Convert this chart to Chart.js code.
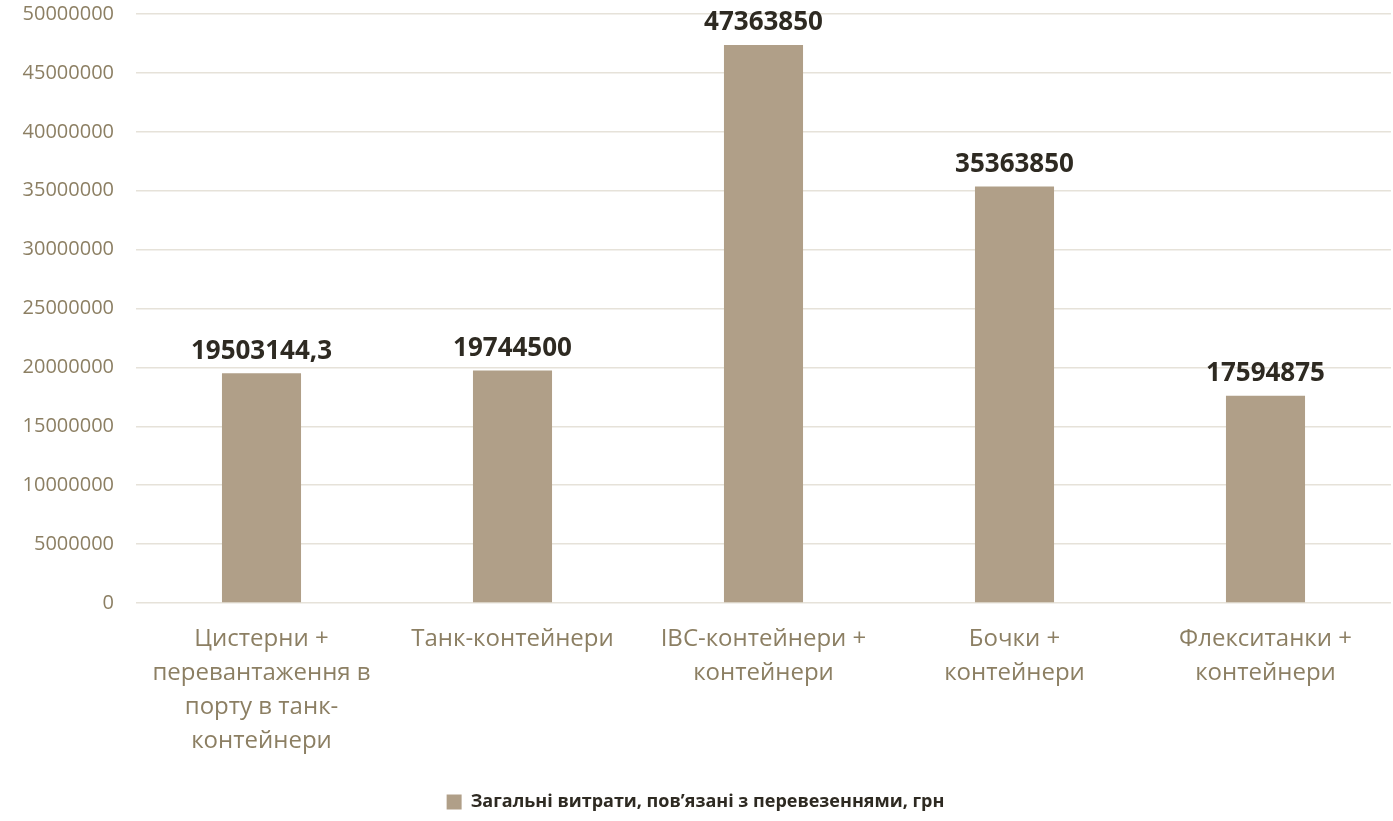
<!DOCTYPE html>
<html>
<head>
<meta charset="utf-8">
<script src="https://cdn.jsdelivr.net/npm/chart.js@4"></script>
<style>
    body { margin: 0; background: #ffffff; }
    #wrap { width: 1393px; height: 821px; position: relative; }
</style>
</head>
<body>
<div id="wrap"><canvas id="costChart"></canvas></div>
<script>
const categoryLabels = [
    ["Цистерни +", "перевантаження в", "порту в танк-", "контейнери"],
    ["Танк-контейнери"],
    ["IBC-контейнери +", "контейнери"],
    ["Бочки +", "контейнери"],
    ["Флекситанки +", "контейнери"]
];
const totalCosts = [19503144.3, 19744500, 47363850, 35363850, 17594875];
const seriesName = "Загальні витрати, пов’язані з перевезеннями, грн";
const yTicks = [0, 5000000, 10000000, 15000000, 20000000, 25000000, 30000000, 35000000, 40000000, 45000000, 50000000];

const fontFamily = "'Open Sans', 'Noto Sans', sans-serif";

// value labels over the bars
const barValueLabels = {
    id: 'barValueLabels',
    afterDatasetsDraw(chart) {
        const ctx = chart.ctx;
        const meta = chart.getDatasetMeta(0);
        ctx.save();
        ctx.font = "bold 26px " + fontFamily;
        ctx.fillStyle = '#2e2a22';
        ctx.textAlign = 'center';
        ctx.textBaseline = 'bottom';
        meta.data.forEach((bar, i) => {
            const text = String(chart.data.datasets[0].data[i]).replace('.', ',');
            ctx.fillText(text, bar.x, bar.y - 9);
        });
        ctx.restore();
    }
};

const ctxCost = document.getElementById('costChart');
if (ctxCost) {
    new Chart(ctxCost, {
        type: 'bar',
        data: {
            labels: categoryLabels,
            datasets: [{
                label: seriesName,
                data: totalCosts,
                backgroundColor: '#b09f88',
                categoryPercentage: 1,
                barPercentage: 0.315
            }]
        },
        options: {
            responsive: true,
            maintainAspectRatio: false,
            animation: false,
            layout: {
                padding: { top: 14, right: 2, left: 0, bottom: 0 }
            },
            scales: {
                x: {
                    grid: { display: false },
                    border: { display: false },
                    afterFit(axis) {
                        axis.height = 182;
                    },
                    ticks: {
                        color: '#8c7f63',
                        font: { family: fontFamily, size: 24, lineHeight: 1.417 },
                        maxRotation: 0,
                        padding: 11
                    }
                },
                y: {
                    min: 0,
                    max: 50000000,
                    afterBuildTicks(axis) {
                        axis.ticks = yTicks.map(v => ({ value: v }));
                    },
                    afterFit(axis) {
                        axis.width = 136;
                        axis.paddingTop = 0;
                        axis.paddingBottom = 0;
                    },
                    border: { display: false },
                    grid: {
                        color: '#e6e2d9',
                        lineWidth: 1.5,
                        drawTicks: false
                    },
                    ticks: {
                        color: '#8c7f63',
                        font: { family: fontFamily, size: 20 },
                        padding: 22,
                        callback: value => String(value)
                    }
                }
            },
            plugins: {
                legend: {
                    position: 'bottom',
                    labels: {
                        color: '#2e2a22',
                        boxWidth: 15,
                        boxHeight: 15,
                        padding: 8,
                        font: { family: fontFamily, size: 18, weight: 'bold' }
                    }
                },
                tooltip: { enabled: false }
            }
        },
        plugins: [barValueLabels]
    });
}
</script>
</body>
</html>
